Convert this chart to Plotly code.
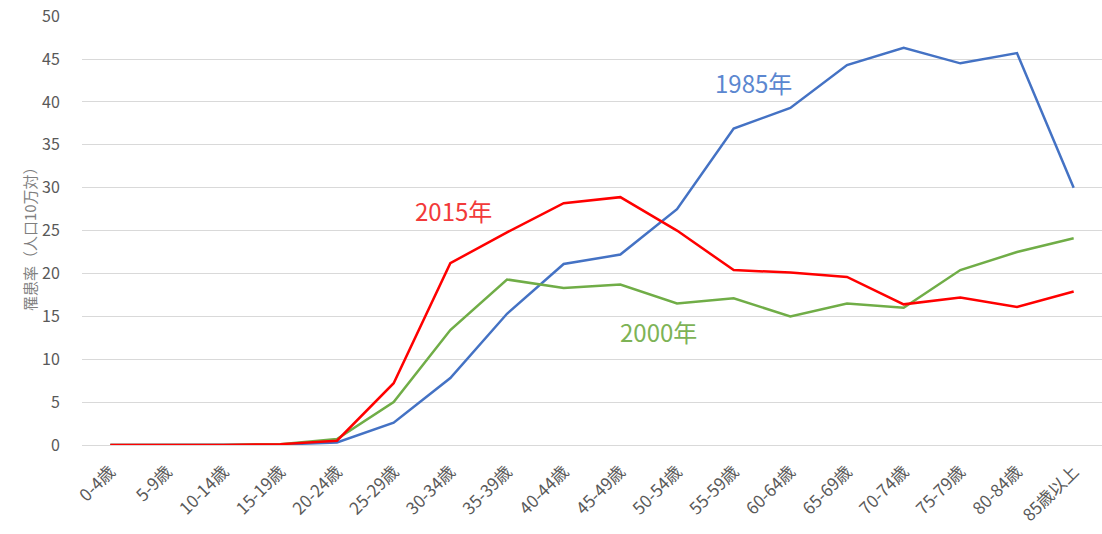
import plotly.graph_objects as go

AGE_GROUPS = [
    "0-4歳", "5-9歳", "10-14歳", "15-19歳", "20-24歳", "25-29歳",
    "30-34歳", "35-39歳", "40-44歳", "45-49歳", "50-54歳", "55-59歳",
    "60-64歳", "65-69歳", "70-74歳", "75-79歳", "80-84歳", "85歳以上",
]

RATE_1985 = [0.0, 0.0, 0.0, 0.05, 0.3, 2.6, 7.8, 15.3, 21.1, 22.2, 27.5, 36.9,
             39.3, 44.3, 46.3, 44.5, 45.7, 30.0]
RATE_2000 = [0.0, 0.0, 0.0, 0.1, 0.7, 5.0, 13.4, 19.3, 18.3, 18.7, 16.5, 17.1,
             15.0, 16.5, 16.0, 20.4, 22.5, 24.1]
RATE_2015 = [0.0, 0.0, 0.0, 0.1, 0.5, 7.2, 21.2, 24.8, 28.2, 28.9, 25.0, 20.4,
             20.1, 19.6, 16.4, 17.2, 16.1, 17.9]

BLUE = "#4472C4"
GREEN = "#70AD47"
RED = "#FF0000"
FONT = "Noto Sans CJK JP"

fig = go.Figure()

# 線（描画順: 1985, 2000, 2015 を上に）
for name, values, color in [
    ("1985年", RATE_1985, BLUE),
    ("2000年", RATE_2000, GREEN),
    ("2015年", RATE_2015, RED),
]:
    fig.add_trace(
        go.Scatter(
            x=AGE_GROUPS,
            y=values,
            mode="lines",
            name=name,
            line=dict(color=color, width=2.5),
        )
    )

# 系列ラベル
labels = [
    ("1985年", "55-59歳", 42.3, "#5B87D0", 20),
    ("2015年", "30-34歳", 27.4, "#F23A3A", 3),
    ("2000年", "45-49歳", 13.2, "#7DB356", 38),
]
for text, cat, yv, color, shift in labels:
    fig.add_annotation(
        x=cat,
        y=yv,
        text=text,
        showarrow=False,
        xshift=shift,
        font=dict(family=FONT, size=24, color=color),
    )

# 縦軸タイトル
fig.add_annotation(
    xref="paper",
    yref="paper",
    x=-0.063,
    y=0.49,
    text="罹患率（人口10万対）",
    textangle=-90,
    showarrow=False,
    font=dict(family=FONT, size=15, color="#7F7F7F"),
)

fig.update_layout(
    width=1102,
    height=534,
    plot_bgcolor="white",
    paper_bgcolor="white",
    margin=dict(l=82, r=0, t=16, b=89),
    showlegend=False,
    font=dict(family=FONT, color="#595959"),
)

fig.update_xaxes(
    type="category",
    range=[-0.5, 17.5],
    automargin=False,
    showgrid=False,
    showline=False,
    zeroline=False,
    tickangle=-45,
    tickfont=dict(family=FONT, size=17, color="#595959"),
    ticks="outside",
    ticklen=9,
    tickcolor="rgba(0,0,0,0)",
)

fig.update_yaxes(
    range=[0, 50.02],
    dtick=5,
    automargin=False,
    showgrid=True,
    gridcolor="#D9D9D9",
    gridwidth=1,
    zeroline=True,
    zerolinecolor="#D9D9D9",
    zerolinewidth=1,
    tickfont=dict(family=FONT, size=16, color="#595959"),
    ticks="outside",
    ticklen=18,
    tickcolor="rgba(0,0,0,0)",
)

# ページ本体の既定余白を外して、図をウィンドウ全体に合わせる
fig.write_html(
    "out.html",
    config={"displayModeBar": False},
    post_script="document.body.style.margin='0';document.body.style.overflow='hidden';",
)
